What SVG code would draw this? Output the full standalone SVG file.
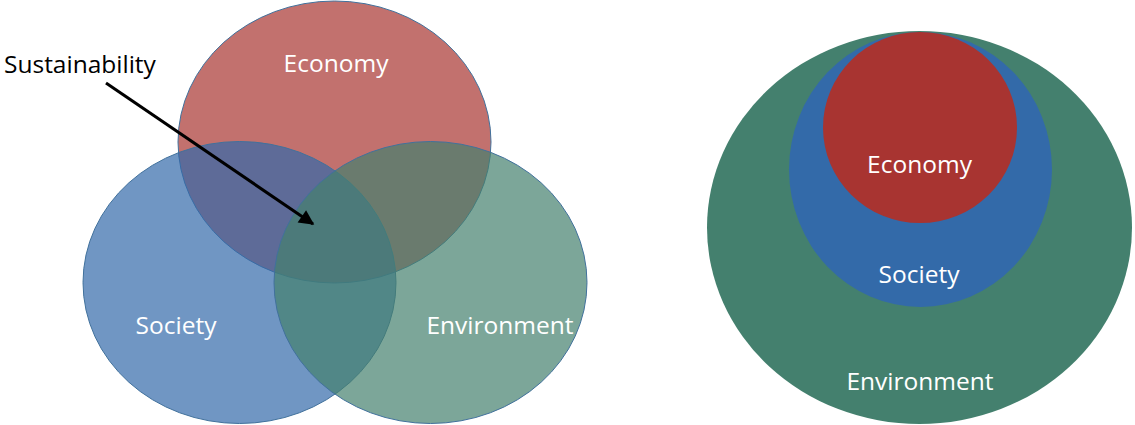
<svg xmlns="http://www.w3.org/2000/svg" width="1135" height="425" viewBox="0 0 1135 425">
<style>
.venn{stroke:#41719C;stroke-width:1;fill-opacity:0.7}
.lbl{font-family:"Open Sans","Noto Sans",sans-serif;font-size:24.5px;fill:#ffffff;text-anchor:middle}
.blk{font-family:"Open Sans","Noto Sans",sans-serif;font-size:24.5px;fill:#000000}
</style>
<defs>
<marker id="ah" viewBox="0 0 10 10" refX="9" refY="5" markerWidth="5.5" markerHeight="5" markerUnits="strokeWidth" orient="auto">
<path d="M0,0 L10,5 L0,10 z" fill="#000"/>
</marker>
</defs>
<g id="venn-economy">
<ellipse class="venn" cx="334.5" cy="142" rx="156.5" ry="141" fill="#A83431"/>
<text class="lbl" x="336" y="72">Economy</text>
</g>
<g id="venn-society">
<ellipse class="venn" cx="239.5" cy="282.5" rx="156.5" ry="141" fill="#336AA9"/>
<text class="lbl" x="176" y="334">Society</text>
</g>
<g id="venn-environment">
<ellipse class="venn" cx="430.5" cy="282.5" rx="156.5" ry="141" fill="#44806E"/>
<text class="lbl" x="500" y="334">Environment</text>
</g>
<g id="sustainability">
<text class="blk" x="4" y="73">Sustainability</text>
</g>
<g id="connectors">
<line x1="106" y1="83" x2="313" y2="224" stroke="#000" stroke-width="3" marker-end="url(#ah)"/>
</g>
<g id="nest-environment">
<ellipse cx="919.5" cy="227.5" rx="212.5" ry="196.5" fill="#44806E"/>
<text class="lbl" x="920" y="390">Environment</text>
</g>
<g id="nest-society">
<ellipse cx="920.5" cy="169.5" rx="131.5" ry="137.5" fill="#336AA9"/>
<text class="lbl" x="919" y="283">Society</text>
</g>
<g id="nest-economy">
<ellipse cx="920" cy="127.5" rx="97" ry="95.5" fill="#A83431"/>
<text class="lbl" x="919.5" y="173">Economy</text>
</g>
</svg>
